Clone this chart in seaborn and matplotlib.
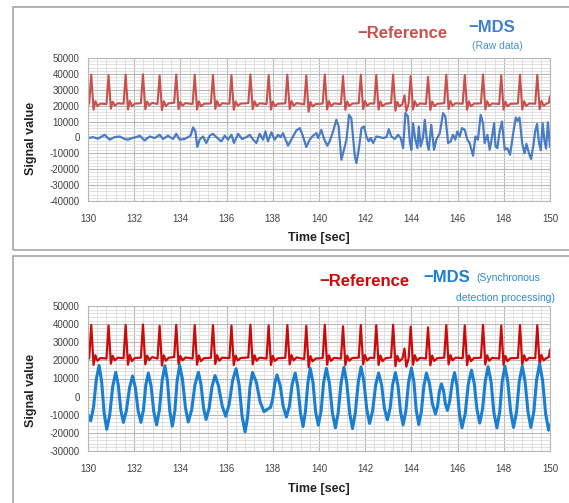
import numpy as np
import pandas as pd
import matplotlib
matplotlib.use("Agg")
import matplotlib.pyplot as plt
from matplotlib.ticker import MultipleLocator
from matplotlib.patches import Rectangle
import seaborn as sns

# Reference signal (both panels)
ref_time = [
    130.00, 130.05, 130.14, 130.24, 130.32, 130.41, 130.54,
    130.80, 130.89, 130.99, 131.07, 131.16, 131.29,
    131.54, 131.63, 131.73, 131.81, 131.90, 132.03,
    132.29, 132.38, 132.48, 132.56, 132.65, 132.78,
    133.01, 133.10, 133.20, 133.28, 133.37, 133.50,
    133.73, 133.82, 133.92, 134.00, 134.09, 134.22,
    134.53, 134.62, 134.72, 134.80, 134.89, 135.02,
    135.32, 135.41, 135.51, 135.59, 135.68, 135.81,
    136.12, 136.21, 136.31, 136.39, 136.48, 136.61,
    136.94, 137.03, 137.13, 137.21, 137.30, 137.43,
    137.73, 137.82, 137.92, 138.00, 138.09, 138.22,
    138.54, 138.63, 138.73, 138.81, 138.90, 139.03,
    139.36, 139.45, 139.55, 139.63, 139.72, 139.85,
    140.16, 140.25, 140.35, 140.43, 140.52, 140.65,
    140.95, 141.04, 141.14, 141.22, 141.31, 141.44,
    141.72, 141.81, 141.91, 141.99, 142.08, 142.21,
    142.39, 142.48, 142.58, 142.66, 142.75, 142.88,
    143.12, 143.21, 143.31, 143.39, 143.48, 143.61, 143.70, 143.78,
    143.88, 143.97, 144.07, 144.15, 144.24, 144.37,
    144.63, 144.72, 144.82, 144.90, 144.99, 145.12,
    145.42, 145.51, 145.61, 145.69, 145.78, 145.91,
    146.22, 146.31, 146.41, 146.49, 146.58, 146.71,
    147.01, 147.10, 147.20, 147.28, 147.37, 147.50,
    147.80, 147.89, 147.99, 148.07, 148.16, 148.29,
    148.61, 148.70, 148.80, 148.88, 148.97, 149.10,
    149.36, 149.45, 149.55, 149.63, 149.72, 149.85,
    149.95, 150.00,
]
ref_value = [
    20500, 21200, 39500, 17500, 22800, 19800, 21300,
    21000, 39200, 18200, 22500, 20000, 21500,
    21200, 39500, 17600, 23000, 19600, 21300,
    21500, 39800, 17800, 22600, 20200, 21800,
    21000, 39000, 17200, 22800, 19800, 21500,
    21800, 39600, 17800, 22400, 20000, 21600,
    21000, 39500, 17600, 22700, 19600, 21200,
    21400, 39400, 18000, 22900, 19800, 21500,
    21200, 39200, 17400, 22600, 20000, 21300,
    21600, 39700, 17800, 22800, 19800, 21500,
    21000, 39300, 17500, 22500, 19700, 21200,
    21400, 39500, 17800, 22900, 20000, 21600,
    20800, 39100, 16200, 22400, 19500, 21000,
    21300, 39600, 17600, 22800, 19700, 21400,
    21000, 38800, 17400, 22600, 19800, 21300,
    21500, 39500, 17800, 23000, 19900, 21500,
    21200, 39400, 17500, 22700, 19600, 21200,
    21600, 39600, 16800, 22500, 19500, 21000, 26500, 16500,
    21200, 38600, 17600, 22800, 19800, 21400,
    21000, 38200, 17300, 22600, 19700, 21200,
    21500, 39500, 17800, 22900, 20000, 21500,
    21200, 39300, 17400, 22700, 19600, 21300,
    21400, 39600, 17700, 22800, 19800, 21400,
    21000, 39200, 17500, 22500, 19600, 21200,
    21300, 39500, 17600, 22800, 19800, 21400,
    21200, 39400, 17800, 23000, 20000, 21300,
    21800, 26000,
]

# MDS raw data (top panel)
raw_time = [
    130.00, 130.22, 130.43, 130.72, 130.94, 131.15, 131.37, 131.59, 131.73, 131.95,
    132.09, 132.24, 132.45, 132.67, 132.89, 133.10, 133.25, 133.46, 133.68, 133.82,
    133.97, 134.18, 134.33, 134.44, 134.55, 134.65, 134.73, 134.83, 134.98, 135.12,
    135.27, 135.41, 135.60, 135.77, 135.92, 136.06, 136.21, 136.32, 136.50, 136.67,
    136.86, 137.00, 137.15, 137.29, 137.43, 137.58, 137.68, 137.79, 137.94, 138.08,
    138.23, 138.34, 138.44, 138.66, 138.80, 139.02, 139.17, 139.31, 139.45, 139.60,
    139.74, 139.89, 139.96, 140.10, 140.22, 140.36, 140.46, 140.61, 140.75, 140.85,
    140.97, 141.08, 141.19, 141.30, 141.40, 141.55, 141.62, 141.72, 141.84, 141.95,
    142.05, 142.15, 142.24, 142.34, 142.48, 142.63, 142.77, 142.92, 143.02, 143.13,
    143.28, 143.42, 143.54, 143.64, 143.74, 143.85, 143.93, 144.00, 144.07, 144.17,
    144.26, 144.32, 144.40, 144.50, 144.58, 144.68, 144.75, 144.86, 144.98, 145.08,
    145.23, 145.37, 145.47, 145.59, 145.70, 145.80, 145.90, 145.99, 146.09, 146.19,
    146.31, 146.42, 146.52, 146.67, 146.77, 146.88, 147.00, 147.10, 147.17, 147.29,
    147.39, 147.46, 147.58, 147.64, 147.72, 147.82, 147.92, 148.04, 148.15, 148.27,
    148.40, 148.52, 148.60, 148.68, 148.80, 148.90, 148.98, 149.08, 149.18, 149.28,
    149.36, 149.44, 149.52, 149.60, 149.68, 149.76, 149.83, 149.91, 150.00,
]
raw_value = [
    -400, 200, -800, 1700, -1400, 200, 600, -1000, -1400, -200,
    200, 1100, -1900, 600, -400, 1700, -1000, 1100, -1000, 2300,
    -1400, -1000, 200, 1100, 6300, 3800, -6000, -1400, 600, -3500,
    1100, 2300, -400, -2500, 1100, -1400, 1700, -3500, 2300, -1000,
    200, 1700, -1400, -3500, 2300, -1400, 3800, -2500, 3200, -1400,
    1700, 200, 2700, -5200, -1400, 4400, 5900, 600, -6000, -1400,
    1100, 2700, -400, 4800, -1000, -5200, -2500, 3800, 11100, 6900,
    -14000, -7700, -1400, 14200, 12100, -11900, -16100, -7700, 5900, 6900,
    600, -2500, -400, -3500, 600, 200, -400, 200, 5200, 600,
    -1000, 1700, -400, -6700, 15300, 13200, -2500, -7700, 9000, -1400,
    -6700, 6900, -5600, -400, 11100, -3500, -7700, 7900, -7700, -1400,
    2700, 15300, 13200, -3500, -2500, 1700, -1400, 3800, 600, 5900,
    4800, -1400, -3500, -11500, 600, -1400, 14200, 9000, -3500, 1700,
    -7700, -2500, 9000, -5600, -6700, 3800, 10000, -7700, -6700, -10900,
    2000, 12500, 10500, 12500, -4000, -10000, -4000, -9500, -13500, -5000,
    4000, 8500, -3000, -8000, 9000, -2000, -7000, 9500, -6000,
]

# MDS after synchronous detection (bottom panel)
sync_time = [
    130.00, 130.12, 130.24, 130.36, 130.48, 130.59, 130.70, 130.81, 130.94, 131.07,
    131.20, 131.31, 131.42, 131.53, 131.66, 131.80, 131.93, 132.05, 132.17, 132.29,
    132.40, 132.50, 132.61, 132.73, 132.85, 132.97, 133.09, 133.21, 133.33, 133.44,
    133.54, 133.65, 133.76, 133.86, 133.97, 134.09, 134.22, 134.34, 134.49, 134.63,
    134.78, 134.89, 135.00, 135.11, 135.24, 135.37, 135.50, 135.65, 135.81, 135.96,
    136.11, 136.26, 136.41, 136.54, 136.67, 136.80, 136.91, 137.01, 137.12, 137.29,
    137.45, 137.62, 137.76, 137.90, 137.99, 138.09, 138.18, 138.32, 138.45, 138.59,
    138.72, 138.84, 138.97, 139.08, 139.20, 139.31, 139.41, 139.52, 139.62, 139.74,
    139.85, 139.97, 140.09, 140.20, 140.32, 140.45, 140.58, 140.71, 140.83, 140.96,
    141.08, 141.20, 141.33, 141.45, 141.57, 141.70, 141.82, 141.94, 142.07, 142.19,
    142.32, 142.45, 142.58, 142.71, 142.83, 142.96, 143.08, 143.19, 143.31, 143.42,
    143.53, 143.64, 143.76, 143.88, 144.00, 144.11, 144.21, 144.32, 144.43, 144.54,
    144.65, 144.78, 144.91, 145.04, 145.13, 145.21, 145.30, 145.39, 145.47, 145.56,
    145.66, 145.77, 145.87, 145.98, 146.08, 146.19, 146.33, 146.46, 146.60, 146.72,
    146.84, 146.96, 147.08, 147.20, 147.32, 147.45, 147.57, 147.70, 147.82, 147.93,
    148.05, 148.17, 148.30, 148.42, 148.55, 148.67, 148.80, 148.92, 149.05, 149.17,
    149.30, 149.42, 149.55, 149.68, 149.81, 149.94, 150.00,
]
sync_value = [
    -10000, -13300, -5700, 9600, 17200, 8400, -9200, -18000, -10200, 5600,
    13400, 6500, -7300, -14200, -7800, 5000, 11400, 5000, -7800, -14200,
    -7400, 6200, 13000, 5900, -8500, -15600, -7500, 8900, 17000, 8700,
    -8000, -16300, -7900, 8900, 17300, 9500, -6200, -14000, -7200, 6600,
    13400, 6900, -6100, -12600, -6600, 5600, 11600, 6000, -5200, -10800,
    -4300, 8900, 15400, 6700, -10800, -19500, -11300, 5100, 13300, 7900,
    -2900, -8300, -7000, -6000, -1500, 7500, 12000, 6200, -5400, -11200,
    -5200, 7000, 13000, 5600, -9100, -16500, -8500, 7600, 15600, 7800,
    -8000, -15800, -8000, 7800, 15600, 7400, -9000, -17200, -8900, 7900,
    16200, 7800, -9200, -17600, -9100, 7900, 16400, 8600, -7000, -14800,
    -7900, 6100, 13000, 6600, -6400, -12800, -6300, 6700, 13200, 6000,
    -8400, -15600, -7800, 8000, 15800, 8000, -7600, -15400, -8300, 5900,
    13000, 7400, -4000, -9600, -5500, 2900, 7000, 3400, -4000, -7600,
    -2400, 8000, 13200, 5600, -9600, -17200, -9300, 6700, 14600, 7300,
    -7300, -14600, -6800, 8700, 16500, 8100, -8800, -17200, -8700, 8300,
    16800, 8400, -8600, -17000, -8600, 8400, 16800, 8400, -8600, -17000,
    -8300, 9300, 18000, 8900, -9400, -18500, -15500,
]

ref = pd.DataFrame({"time": ref_time, "value": ref_value})
raw = pd.DataFrame({"time": raw_time, "value": raw_value})
sync = pd.DataFrame({"time": sync_time, "value": sync_value})

sns.set_theme(style="white")
plt.rcParams["font.family"] = ["Liberation Sans", "DejaVu Sans"]
plt.rcParams["axes.unicode_minus"] = False

fig = plt.figure(figsize=(5.69, 5.03), dpi=100)
W, H = 569, 503

# panel frames
for y0, y1 in [(7, 250), (256, 510)]:
    fig.patches.append(Rectangle((13 / W, 1 - y1 / H), (W + 5 - 13) / W, (y1 - y0) / H,
                                 transform=fig.transFigure, fill=False,
                                 edgecolor="#a6a6a6", linewidth=1.2))

ax1 = fig.add_axes([88 / W, 1 - 201 / H, 462 / W, 143 / H])
ax2 = fig.add_axes([88 / W, 1 - 451 / H, 462 / W, 145 / H])


def style(ax, ylo):
    ax.set_xlim(130, 150)
    ax.set_ylim(ylo, 50000)
    ax.xaxis.set_major_locator(MultipleLocator(2))
    ax.xaxis.set_minor_locator(MultipleLocator(0.4))
    ax.yaxis.set_major_locator(MultipleLocator(10000))
    ax.yaxis.set_minor_locator(MultipleLocator(2000))
    ax.grid(which="major", color="#b8b8b8", linewidth=0.8)
    ax.grid(which="minor", color="#dcdcdc", linewidth=0.6)
    ax.set_axisbelow(True)
    ax.tick_params(which="both", length=0, labelsize=7, colors="#404040")
    ax.tick_params(axis="x", pad=9)
    ax.tick_params(axis="y", pad=6)
    for s in ax.spines.values():
        s.set_color("#b8b8b8")
        s.set_linewidth(0.8)
    ax.set_xlabel("Time [sec]", fontsize=9, fontweight="bold", color="#222222")
    ax.set_ylabel("Signal value", fontsize=9, fontweight="bold", color="#222222")


sns.lineplot(data=ref, x="time", y="value", ax=ax1, color="#c8504d",
             linewidth=1.5, estimator=None, sort=False)
sns.lineplot(data=raw, x="time", y="value", ax=ax1, color="#4a7cc4",
             linewidth=1.6, estimator=None, sort=False)
style(ax1, -40000)
ax1.xaxis.set_label_coords(0.5, -0.22)
ax1.yaxis.set_label_coords(-0.11, 0.44)

sns.lineplot(data=ref, x="time", y="value", ax=ax2, color="#cc0a0a",
             linewidth=1.6, estimator=None, sort=False)
sns.lineplot(data=sync, x="time", y="value", ax=ax2, color="#1a7fd0",
             linewidth=2.2, estimator=None, sort=False)
style(ax2, -30000)
ax2.xaxis.set_label_coords(0.5, -0.22)
ax2.yaxis.set_label_coords(-0.11, 0.42)

# legend-like captions
fig.text(357 / W, 1 - 33 / H, "\u2212Reference", color="#c8504d", fontsize=12,
         fontweight="bold", ha="left", va="center")
fig.text(468 / W, 1 - 27 / H, "\u2212MDS", color="#3f7fcf", fontsize=12,
         fontweight="bold", ha="left", va="center")
fig.text(497 / W, 1 - 46 / H, "(Raw data)", color="#4a90d0", fontsize=7.5,
         ha="center", va="center")

fig.text(319 / W, 1 - 282 / H, "\u2212Reference", color="#cc0a0a", fontsize=12,
         fontweight="bold", ha="left", va="center")
fig.text(423 / W, 1 - 277 / H, "\u2212MDS", color="#1a7fd0", fontsize=12,
         fontweight="bold", ha="left", va="center")
fig.text(476 / W, 1 - 278 / H, "(Synchronous", color="#2a8ad0", fontsize=7.5,
         ha="left", va="center")
fig.text(555 / W, 1 - 298 / H, "detection processing)", color="#2a8ad0",
         fontsize=7.5, ha="right", va="center")

fig.savefig("out.png", dpi=100)
